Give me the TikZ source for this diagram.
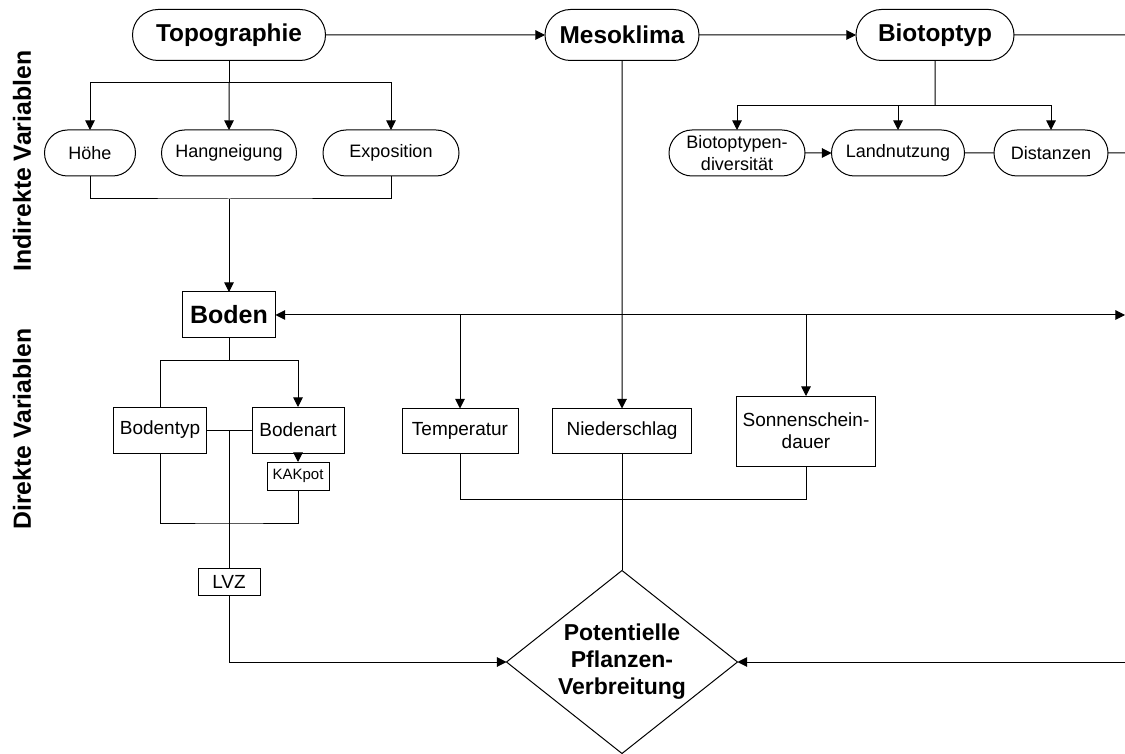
\documentclass[tikz,border=0pt]{standalone}
\usepackage{fontspec}
\setmainfont{Liberation Sans}
\usepackage{tikz}
\usetikzlibrary{positioning}
\usetikzlibrary{arrows.meta,shapes.geometric,shapes.misc}
\begin{document}
\begin{tikzpicture}[x=0.5pt,y=-0.5pt,
	every node/.style={inner sep=1,outer sep=0,align=center},
	>={Triangle[length=4.8pt,width=4.8pt]},
	every path/.style={line width=0.5pt},
	haupt/.style={draw,rounded rectangle,minimum height=25.5pt,font=\fontsize{12.2}{14}\selectfont\bfseries},
	unter/.style={draw,rounded rectangle,minimum height=23pt,font=\fontsize{9}{11}\selectfont},
	kasten/.style={draw,rectangle,minimum height=22.5pt,font=\fontsize{9.5}{11}\selectfont},
	seite/.style={rotate=90,font=\fontsize{12.4}{14}\selectfont\bfseries}]
	\useasboundingbox (0,0) rectangle (1125,754);
	% indirekte Variablen
	\node (topo) [haupt,minimum width=98.5pt] at (229,35) {Topographie};
	\node (meso) [haupt,minimum width=79pt] at (622,35) {Mesoklima};
	\node (bio) [haupt,minimum width=81pt] at (935,35) {Biotoptyp};
	\node (hoehe) [unter,minimum width=47.5pt] at (90,153) {Höhe};
	\node (hang) [unter,minimum width=69.5pt] at (229,153) {Hangneigung};
	\node (expo) [unter,minimum width=70pt] at (391,153) {Exposition};
	\node (div) [unter,minimum width=70pt] at (737,153) {Biotoptypen-\\diversität};
	\node (land) [unter,minimum width=68.5pt] at (898,153) {Landnutzung};
	\node (dist) [unter,minimum width=59pt] at (1051,153) {Distanzen};
	% direkte Variablen
	\node (boden) [kasten,minimum width=46.5pt,minimum height=23pt,font=\fontsize{12.5}{14}\selectfont\bfseries] at (229,315) {Boden};
	\node (btyp) [kasten,minimum width=46.5pt,minimum height=23pt] at (160,430) {Bodentyp};
	\node (bart) [kasten,minimum width=46pt,minimum height=23pt] at (298,430) {Bodenart};
	\node (kak) [kasten,minimum width=31pt,minimum height=14pt,font=\fontsize{7.5}{9}\selectfont] at (298,476) {KAKpot};
	\node (lvz) [kasten,minimum width=31pt,minimum height=13.5pt] at (229,582) {LVZ};
	\node (temp) [kasten,minimum width=58pt] at (460,431) {Temperatur};
	\node (nied) [kasten,minimum width=69.5pt] at (622,431) {Niederschlag};
	\node (sonne) [kasten,minimum width=69.5pt,minimum height=35pt] at (806,431) {Sonnenschein-\\dauer};
	\node (pot) [draw,diamond,aspect=1.26,inner sep=0pt,minimum width=115.5pt,minimum height=91.5pt,font=\fontsize{11.5}{13.5}\selectfont\bfseries] at (622,662) {Potentielle\\Pflanzen-\\Verbreitung};
	\node (ind) [seite] at (22,161) {Indirekte Variablen};
	\node (dir) [seite] at (22,429) {Direkte Variablen};
	% Rand
	\coordinate (r1) at (1125,35);
	\coordinate (r2) at (1125,153);
	\coordinate (r3) at (1125,315);
	\coordinate (r4) at (1125,662);
	\coordinate (tbar) at (229,83);
	\coordinate (tjoin) at (229,199);
	\coordinate (bbar) at (935,106);
	\coordinate (sbar) at (229,361);
	\coordinate (mitte) at (229,430);
	\coordinate (kjoin) at (229,523);
	\coordinate (kbar) at (460,499);
	\path[->]
		(topo) edge (meso)
		(meso) edge (bio)
		(div) edge (land)
		(bart) edge (kak)
		(meso) edge (nied);
	\draw (bio) -- (r1);
	\draw (land) -- (dist);
	\draw (dist) -- (r2);
	% Topographie
	\draw (topo) -- (tbar);
	\draw[->] (tbar) -- (hang);
	\draw[->] (tbar) -| (hoehe);
	\draw[->] (tbar) -| (expo);
	\draw (hoehe) |- (tjoin) -| (expo);
	\draw[->] (tjoin) -- (boden);
	% Biotoptyp
	\draw (bio) -- (bbar);
	\draw[->] (bbar) -| (div);
	\draw[->] (bbar) -| (land);
	\draw[->] (bbar) -| (dist);
	% Boden
	\draw[<->] (boden) -- (r3);
	\draw[->] (temp |- r3) -- (temp);
	\draw[->] (sonne |- r3) -- (sonne);
	\draw (boden) -- (sbar);
	\draw (sbar) -| (btyp);
	\draw[->] (sbar) -| (bart);
	\draw (btyp) -- (bart);
	\draw (mitte) -- (lvz);
	\draw (btyp) |- (kjoin) -| (kak);
	\draw[->] (lvz) |- (pot);
	\draw[->] (r4) -- (pot);
	% Klima
	\draw (temp) |- (kbar) -| (sonne);
	\draw (nied) -- (pot);
\end{tikzpicture}
\end{document}
